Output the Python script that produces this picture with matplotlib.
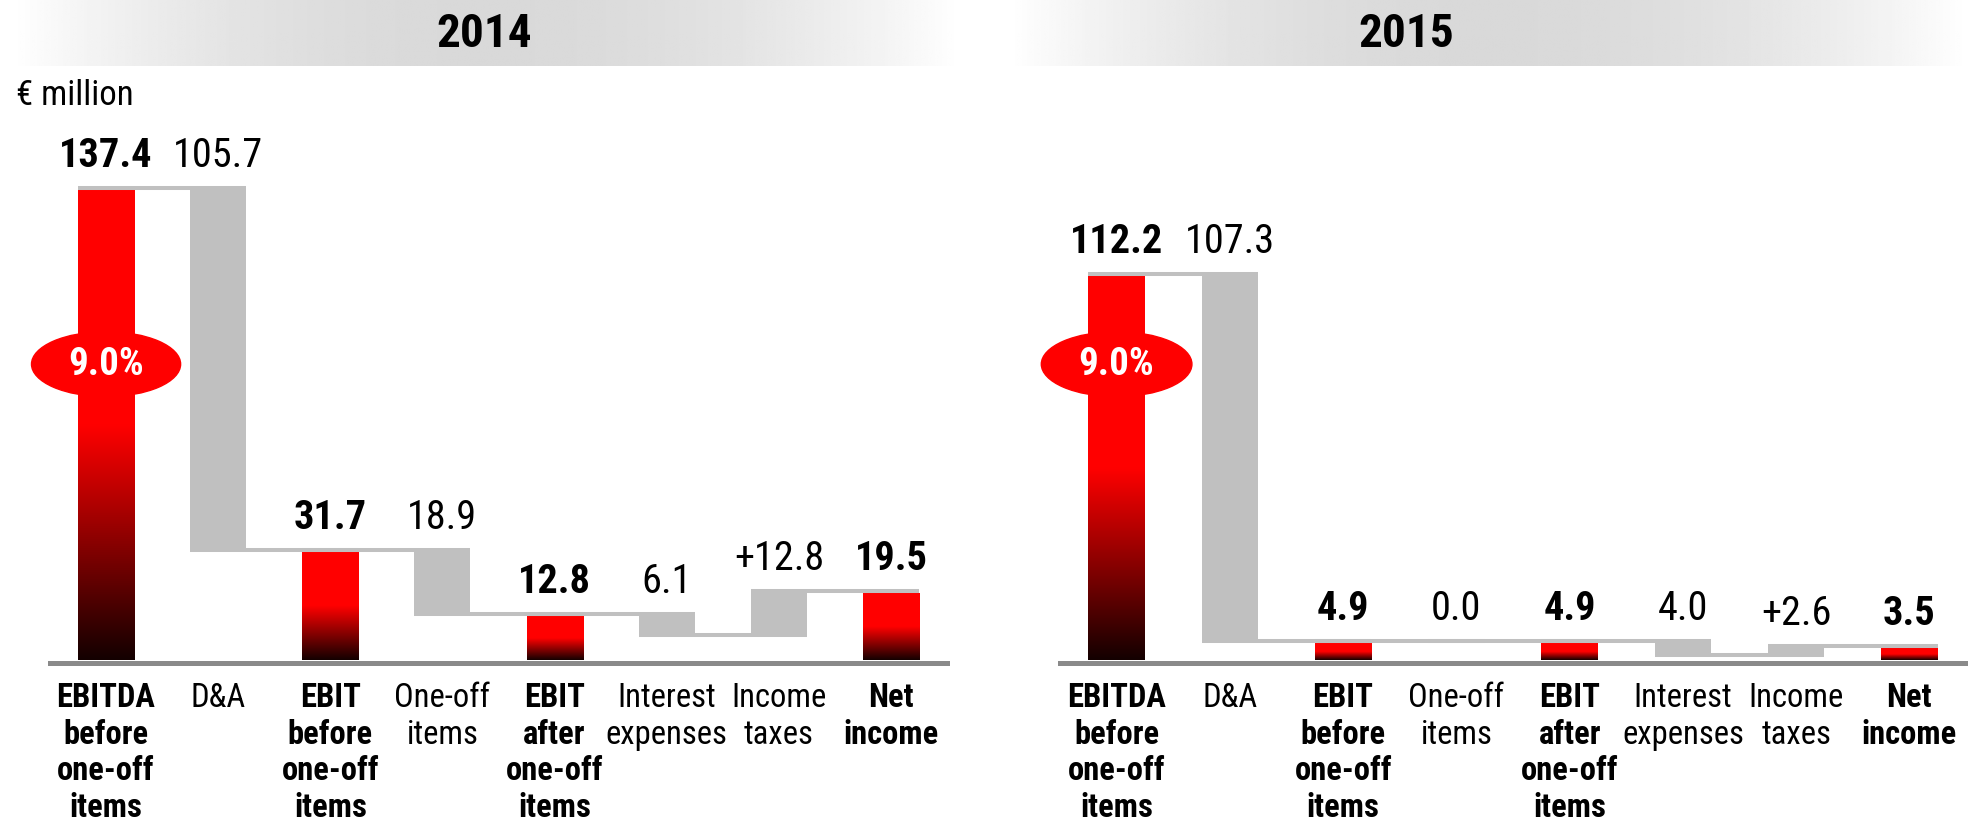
import numpy as np
import matplotlib
matplotlib.use('Agg')
import matplotlib.pyplot as plt
from matplotlib import font_manager
from matplotlib.colors import LinearSegmentedColormap
from matplotlib.patches import Ellipse

# ---- data ----
years = ['2014', '2015']
categories = ['EBITDA\nbefore\none-off\nitems', 'D&A', 'EBIT\nbefore\none-off\nitems',
              'One-off\nitems', 'EBIT\nafter\none-off\nitems', 'Interest\nexpenses',
              'Income\ntaxes', 'Net\nincome']
is_total = [True, False, True, False, True, False, False, True]
values_2014 = [137.4, -105.7, 31.7, -18.9, 12.8, -6.1, 12.8, 19.5]
values_2015 = [112.2, -107.3, 4.9, 0.0, 4.9, -4.0, 2.6, 3.5]
labels_2014 = ['137.4', '105.7', '31.7', '18.9', '12.8', '6.1', '+12.8', '19.5']
labels_2015 = ['112.2', '107.3', '4.9', '0.0', '4.9', '4.0', '+2.6', '3.5']
margin_2014 = '9.0%'
margin_2015 = '9.0%'
unit_label = '€ million'

# the slide uses an Arial Narrow look, pick the closest narrow face we have
fonts = font_manager.fontManager.ttflist
narrow = 'Liberation Sans'
for cand in ['Liberation Sans Narrow', 'Nimbus Sans Narrow', 'Roboto Condensed',
             'Archivo Narrow', 'PT Sans Narrow']:
    ws = [f.weight for f in fonts if f.name == cand]
    if ws and any(w in ('bold', 700) or (isinstance(w, int) and w >= 700) for w in ws):
        narrow = cand
        break
plt.rcParams['font.family'] = [narrow, 'DejaVu Sans']

RED = '#ff0000'
GREY = '#c0c0c0'
BASE = '#8a8a8a'
W, H = 1968, 826
PX_PER_UNIT = 3.42

red_cmap = LinearSegmentedColormap.from_list('redfade', ['#140000', RED])
grad = np.clip(np.linspace(0, 1, 256) / 0.5, 0, 1).reshape(-1, 1)

fig = plt.figure(figsize=(W / 100, H / 100), dpi=100)

# grey title bands
band = 1 - 0.15 * (1 - np.abs(np.linspace(-1, 1, 400)) ** 2)
for (x0, x1), yr, xc in zip([(12, 960), (1009, 1968)], years, [484, 1406]):
    bax = fig.add_axes([x0 / W, 1 - 66 / H, (x1 - x0) / W, 66 / H])
    bax.imshow(band.reshape(1, -1), cmap='gray', vmin=0, vmax=1, aspect='auto')
    bax.axis('off')
    fig.text(xc / W, 1 - 47 / H, yr, ha='center', va='baseline',
             fontsize=34, fontweight='bold')

fig.text(16 / W, 1 - 105 / H, unit_label, ha='left', va='baseline', fontsize=25)


def waterfall(ax, values, labels, margin):
    level = 0
    ends = []
    for i, (v, lab, tot) in enumerate(zip(values, labels, is_total)):
        if tot:
            start, end = 0, v
            ax.imshow(grad, extent=[i - 0.25, i + 0.25, 0, v], origin='lower',
                      aspect='auto', cmap=red_cmap, vmin=0, vmax=1, zorder=2)
        else:
            start, end = level, level + v
            ax.bar(i, end - start, bottom=start, width=0.5, color=GREY, zorder=2)
        level = end
        ends.append(end)
        ax.annotate(lab, (i, max(start, end)), xytext=(0, 16.5), textcoords='offset points',
                    ha='center', va='baseline', fontsize=29,
                    fontweight='bold' if tot else 'normal')
    off = 2 / PX_PER_UNIT
    for i in range(len(values) - 1):
        ax.plot([i - 0.25, i + 1.25], [ends[i] + off] * 2, color=GREY, lw=2.9,
                solid_capstyle='butt', zorder=3)

    ax.add_patch(Ellipse((0, 86.5), 1.33, 19, color=RED, zorder=4, clip_on=False))
    ax.text(0, 86.5, margin, ha='center', va='center', color='white',
            fontsize=28, fontweight='bold', zorder=5)

    ax.axhline(-2.5 / PX_PER_UNIT, color=BASE, lw=3.6, clip_on=False, zorder=1)
    ax.set_xlim(-0.5, 7.5)
    ax.set_ylim(0, 590 / PX_PER_UNIT)
    ax.set_xticks(range(len(categories)))
    ax.set_xticklabels(categories, fontsize=23.5, linespacing=1.18)
    for t, tot in zip(ax.get_xticklabels(), is_total):
        t.set_fontweight('bold' if tot else 'normal')
    ax.tick_params(axis='x', length=0, pad=16)
    ax.set_yticks([])
    for s in ax.spines.values():
        s.set_visible(False)


ax1 = fig.add_axes([50 / W, 166 / H, 897 / W, 590 / H])
waterfall(ax1, values_2014, labels_2014, margin_2014)
ax2 = fig.add_axes([1060 / W, 166 / H, 906 / W, 590 / H])
waterfall(ax2, values_2015, labels_2015, margin_2015)

fig.savefig('out.png', dpi=100)
